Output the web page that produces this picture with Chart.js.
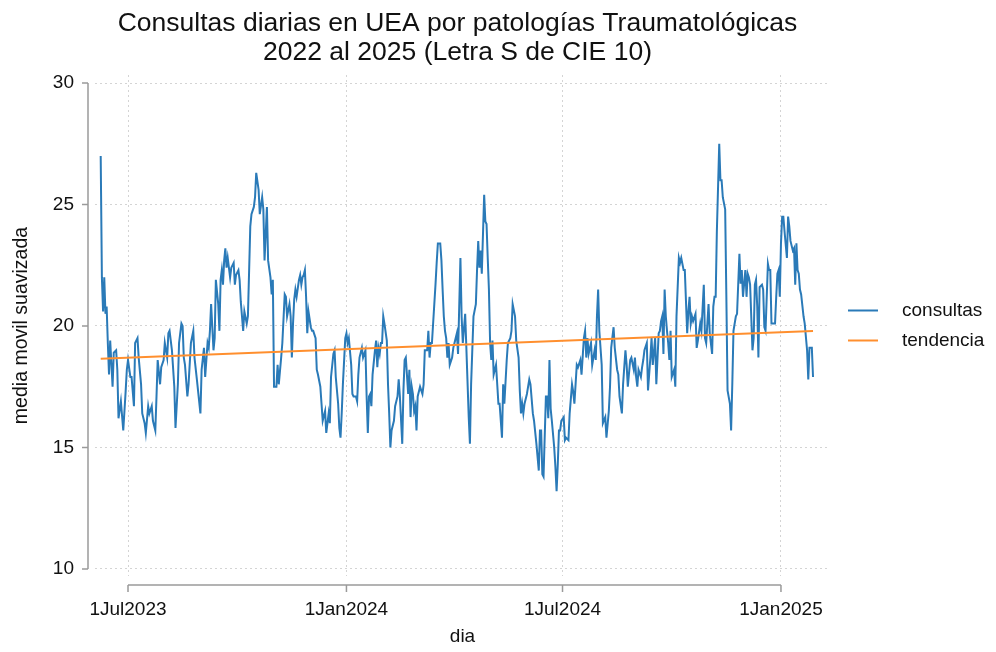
<!DOCTYPE html>
<html lang="es">
<head>
<meta charset="utf-8">
<title>Consultas diarias en UEA</title>
<script src="https://cdn.jsdelivr.net/npm/chart.js@4.4.1/dist/chart.umd.min.js"></script>
<style>
  html, body { margin: 0; padding: 0; background: #ffffff; }
  #wrap { width: 996px; height: 652px; }
</style>
</head>
<body>
<div id="wrap"><canvas id="chart" width="996" height="652"></canvas></div>
<script>
// dias desde el 1 de julio de 2023
const dias = [
  -23, -22, -21, -20, -19, -18, -17, -16, -15, -13, -12, -10, -9, -8, -6, -4, -2, -1,
  0, 2, 3, 5, 6, 8, 9, 11, 12, 14, 15, 17, 18, 20, 21, 23, 24, 25, 27, 28, 30, 31,
  33, 34, 35, 37, 39, 40, 42, 43, 45, 46, 47, 48, 50, 51, 53, 55, 56, 58, 61, 62,
  64, 65, 67, 68, 69, 70, 72, 73, 74, 76, 77, 78, 79, 80, 81, 82, 83, 84, 86, 87,
  89, 90, 91, 93, 94, 95, 96, 97, 98, 100, 101, 103, 104, 106, 107, 108, 110, 111, 113, 114,
  115, 117, 118, 120, 121, 122, 123, 125, 126, 127, 129, 130, 132, 133, 134, 136, 137, 138, 139, 140,
  141, 142, 144, 145, 146, 147, 148, 149, 150, 151, 152, 154, 155, 156, 158, 159, 160, 162, 163, 164,
  166, 167, 169, 170, 171, 173, 174, 175, 177, 178, 179, 180, 181, 183, 184, 185, 186, 188, 189, 190,
  192, 193, 194, 195, 197, 198, 200, 201, 202, 203, 204, 205, 206, 208, 209, 210, 211, 212, 213, 214,
  215, 216, 218, 219, 220, 221, 222, 224, 225, 227, 228, 229, 231, 232, 233, 234, 236, 237, 238, 239,
  240, 241, 242, 243, 244, 246, 247, 248, 249, 250, 252, 253, 254, 255, 256, 257, 259, 260, 261, 263,
  264, 265, 266, 267, 268, 269, 270, 271, 273, 274, 275, 277, 278, 280, 281, 282, 284, 285, 287, 288,
  289, 291, 293, 294, 295, 296, 297, 298, 300, 301, 302, 303, 304, 305, 306, 307, 308, 310, 311, 312,
  313, 314, 315, 316, 317, 319, 320, 322, 323, 324, 326, 327, 329, 330, 331, 332, 333, 334, 336, 338,
  339, 341, 342, 344, 346, 347, 348, 349, 350, 352, 353, 354, 355, 356, 357, 359, 360, 361, 362, 363,
  364, 365, 367, 368, 369, 371, 372, 374, 375, 376, 378, 379, 381, 382, 384, 385, 386, 387, 388, 390,
  391, 393, 394, 395, 396, 397, 398, 399, 400, 402, 403, 405, 406, 407, 409, 410, 412, 413, 414, 416,
  417, 419, 420, 421, 423, 424, 426, 427, 428, 429, 430, 432, 433, 434, 435, 437, 438, 440, 441, 442,
  444, 445, 447, 448, 449, 450, 451, 452, 453, 454, 455, 456, 457, 458, 460, 461, 462, 464, 465, 466,
  468, 469, 471, 472, 473, 474, 475, 476, 478, 479, 480, 482, 483, 485, 486, 487, 489, 490, 492, 493,
  494, 495, 496, 498, 499, 500, 501, 503, 504, 505, 507, 508, 509, 510, 512, 513, 515, 516, 517, 518,
  520, 521, 522, 523, 524, 526, 527, 528, 529, 530, 531, 532, 534, 535, 536, 537, 539, 540, 541, 542,
  544, 545, 546, 547, 548, 549, 550, 551, 552, 553, 555, 556, 557, 558, 560, 561, 562, 563, 564, 565,
  566, 567, 569, 570, 572, 573, 574, 576, 577
];

const consultas = [
  27.0, 22.0, 20.6, 22.0, 20.5, 20.8, 19.3, 18.0, 19.4, 17.5, 18.9, 19.0, 18.2, 16.2, 16.9, 15.7, 17.3, 18.2,
  18.6, 17.9, 17.9, 16.7, 19.3, 19.5, 18.7, 17.6, 16.4, 16.0, 15.6, 16.7, 16.4, 16.7, 16.1, 15.7, 17.1, 18.6, 17.6, 18.3, 18.6, 19.3,
  18.7, 19.7, 19.8, 19.0, 17.5, 15.8, 17.6, 19.3, 20.1, 20.0, 18.7, 18.4, 17.1, 17.6, 19.3, 19.8, 18.7, 17.8, 16.4, 18.2,
  19.1, 17.9, 19.3, 19.1, 19.8, 20.9, 19.0, 19.5, 21.9, 20.9, 19.8, 21.9, 22.3, 21.7, 22.7, 23.2, 22.4, 22.8, 22.0, 22.4,
  22.6, 21.7, 22.1, 22.3, 21.9, 21.0, 20.4, 19.8, 20.6, 20.1, 20.4, 24.1, 24.6, 24.9, 25.3, 26.3, 25.6, 24.6, 25.3, 24.8,
  22.7, 24.9, 22.7, 22.0, 21.3, 21.9, 17.5, 17.5, 18.4, 17.6, 18.7, 19.3, 21.3, 21.2, 20.4, 20.9, 20.4, 18.7, 20.1, 21.1,
  21.5, 21.2, 21.9, 22.1, 21.7, 22.0, 22.1, 22.3, 21.2, 19.7, 20.6, 19.95, 19.8, 19.8, 19.5, 18.2, 18.0, 17.5, 16.8, 16.1,
  16.5, 15.6, 16.4, 16.0, 17.9, 18.85, 19.0, 17.9, 16.8, 15.8, 15.4, 16.4, 17.6, 19.5, 19.7, 19.3, 19.5, 18.4, 17.2, 17.1,
  17.1, 16.9, 18.0, 18.7, 19.1, 18.7, 19.0, 17.1, 15.6, 17.1, 17.2, 16.7, 18.0, 19.0, 19.4, 18.3, 19.1, 18.85, 19.3, 19.3,
  20.4, 20.1, 19.4, 17.6, 16.4, 15.0, 15.7, 16.1, 16.7, 17.1, 17.8, 17.1, 15.15, 17.35, 18.6, 18.7, 17.2, 18.2, 16.25, 17.5,
  17.2, 16.5, 16.7, 15.7, 17.1, 17.5, 17.35, 17.2, 17.6, 19.0, 19.0, 19.8, 18.7, 19.3, 19.3, 20.1, 21.7, 22.6, 23.4, 23.4,
  22.7, 21.5, 20.4, 19.8, 19.5, 18.7, 19.3, 18.4, 18.7, 19.1, 19.3, 19.7, 18.85, 22.8, 20.4, 19.3, 20.5, 19.1, 16.25, 15.15,
  17.6, 20.4, 20.9, 22.3, 23.5, 22.4, 23.1, 22.15, 25.4, 24.3, 24.2, 22.8, 21.5, 19.3, 18.6, 19.4, 18.0, 18.4, 17.6, 16.8,
  16.8, 16.1, 15.4, 17.6, 16.8, 18.6, 19.3, 19.5, 19.8, 20.9, 20.4, 19.4, 18.7, 17.35, 16.4, 16.8, 16.4, 16.8, 17.2, 17.8,
  17.6, 16.4, 16.1, 15.15, 14.05, 15.7, 15.7, 13.9, 13.8, 17.1, 17.1, 16.2, 18.6, 16.6, 16.1, 15.0, 14.2, 13.2, 14.3, 15.7,
  15.7, 16.1, 16.25, 15.3, 15.4, 15.3, 16.4, 17.6, 17.3, 16.8, 18.4, 18.3, 18.6, 18.0, 19.5, 19.8, 18.7, 19.5, 18.85, 19.3,
  18.4, 19.0, 18.6, 20.4, 21.5, 19.8, 19.1, 18.4, 16.0, 16.25, 15.4, 16.5, 17.5, 19.1, 19.95, 19.1, 18.2, 18.0, 17.1, 16.4,
  17.6, 19.0, 18.4, 17.5, 18.6, 18.7, 18.2, 18.7, 17.9, 17.5, 18.2, 17.9, 18.3, 18.6, 19.0, 19.3, 17.35, 18.7, 19.5, 18.4,
  19.5, 17.6, 19.7, 19.8, 20.2, 20.4, 18.85, 21.5, 20.4, 19.8, 19.3, 18.6, 19.8, 17.9, 18.2, 17.5, 20.4, 22.8, 22.6, 22.8,
  22.3, 22.3, 19.7, 20.6, 21.2, 20.1, 20.4, 20.2, 20.5, 19.1, 19.4, 20.1, 19.8, 21.7, 19.5, 19.3, 20.9, 19.7, 18.85, 20.8,
  21.2, 21.2, 23.9, 27.5, 26.0, 26.0, 25.3, 24.8, 21.2, 17.35, 16.8, 15.7, 17.6, 19.8, 20.4, 20.5, 22.97, 21.74, 22.3, 21.2,
  22.3, 21.2, 22.15, 22.0, 21.7, 19.0, 19.5, 21.7, 21.9, 20.8, 18.7, 21.6, 21.7, 21.5, 19.95, 19.8, 22.56, 22.3, 22.3, 20.1,
  20.1, 20.1, 21.2, 22.15, 22.3, 21.2, 23.4, 24.5, 24.5, 23.9, 22.8, 24.5, 24.1, 23.5, 23.1, 23.2, 21.7, 23.4, 22.3, 22.15,
  21.5, 21.3, 20.4, 20.1, 19.0, 17.8, 19.1, 19.1, 17.9
];

// recta de tendencia (extremos)
const tendenciaDias = [-23, 577];
const tendencia = [18.65, 19.79];

const yTicks = [10, 15, 20, 25, 30];
const xTickDias = [0, 184, 366, 550];
const xTickLabels = ['1Jul2023', '1Jan2024', '1Jul2024', '1Jan2025'];

const tituloLineas = [
  'Consultas diarias en UEA por patologías Traumatológicas',
  '2022 al 2025 (Letra S de CIE 10)',
];

const FONT_FAMILY = "'Liberation Sans', Arial, sans-serif";
const TEXT_COLOR = '#111111';
const GRID_COLOR = '#d4d4d4';
const AXIS_COLOR = '#9a9a9a';
const BLUE = '#2a7ab8';
const ORANGE = '#ff8f2e';

function toPoints(xs, ys) {
  return xs.map((x, i) => ({ x, y: ys[i] }));
}

// ejes al estilo Stata: recorren solo del primer al ultimo tick
const stataAxes = {
  id: 'stataAxes',
  afterDraw(chart) {
    const { ctx, chartArea, scales: { x, y } } = chart;
    ctx.save();
    ctx.strokeStyle = AXIS_COLOR;
    ctx.lineWidth = 1.5;
    ctx.beginPath();

    const ax = chartArea.left - 7;
    ctx.moveTo(ax, y.getPixelForValue(yTicks[yTicks.length - 1]));
    ctx.lineTo(ax, y.getPixelForValue(yTicks[0]));
    yTicks.forEach((v) => {
      const p = y.getPixelForValue(v);
      ctx.moveTo(ax, p);
      ctx.lineTo(ax - 6, p);
    });

    const ay = chartArea.bottom + 9;
    ctx.moveTo(x.getPixelForValue(xTickDias[0]), ay);
    ctx.lineTo(x.getPixelForValue(xTickDias[xTickDias.length - 1]), ay);
    xTickDias.forEach((v) => {
      const p = x.getPixelForValue(v);
      ctx.moveTo(p, ay);
      ctx.lineTo(p, ay + 7);
    });
    ctx.stroke();
    ctx.restore();
  },
};

// titulo centrado sobre la region del grafico
const stataTitle = {
  id: 'stataTitle',
  afterDraw(chart) {
    const { ctx, chartArea } = chart;
    const cx = (chartArea.left + chartArea.right) / 2 - 5;
    ctx.save();
    ctx.fillStyle = TEXT_COLOR;
    ctx.font = `26.5px ${FONT_FAMILY}`;
    ctx.textAlign = 'center';
    ctx.textBaseline = 'middle';
    tituloLineas.forEach((line, i) => {
      ctx.fillText(line, cx, 24 + i * 29);
    });
    ctx.restore();
  },
};

// leyenda a la derecha
const stataLegend = {
  id: 'stataLegend',
  afterDraw(chart) {
    const { ctx, chartArea } = chart;
    const x0 = chartArea.right + 18;
    const midY = (chartArea.top + chartArea.bottom) / 2;
    const sets = chart.data.datasets;
    ctx.save();
    ctx.font = `19px ${FONT_FAMILY}`;
    ctx.textBaseline = 'middle';
    ctx.textAlign = 'left';
    sets.forEach((ds, i) => {
      const yy = midY - 15 + i * 30;
      ctx.strokeStyle = ds.borderColor;
      ctx.lineWidth = 2;
      ctx.beginPath();
      ctx.moveTo(x0, yy);
      ctx.lineTo(x0 + 30, yy);
      ctx.stroke();
      ctx.fillStyle = TEXT_COLOR;
      ctx.fillText(ds.label, x0 + 54, yy);
    });
    ctx.restore();
  },
};

const axisFont = { family: FONT_FAMILY, size: 19 };

new Chart(document.getElementById('chart'), {
  type: 'line',
  data: {
    datasets: [
      {
        label: 'consultas',
        data: toPoints(dias, consultas),
        borderColor: BLUE,
        borderWidth: 2,
        pointRadius: 0,
        tension: 0,
        order: 1,
      },
      {
        label: 'tendencia',
        data: toPoints(tendenciaDias, tendencia),
        borderColor: ORANGE,
        borderWidth: 2,
        pointRadius: 0,
        tension: 0,
        order: 0,
      },
    ],
  },
  options: {
    responsive: false,
    animation: false,
    devicePixelRatio: 1,
    layout: { padding: { top: 75, right: 166, bottom: 0, left: 0 } },
    plugins: {
      legend: { display: false },
      title: { display: false },
      tooltip: { enabled: false },
    },
    scales: {
      x: {
        type: 'linear',
        min: -27.8,
        max: 591.3,
        afterFit: (scale) => { scale.height = 76; },
        afterBuildTicks: (scale) => {
          scale.ticks = xTickDias.map((v) => ({ value: v }));
        },
        grid: { color: GRID_COLOR, lineWidth: 1, drawTicks: false },
        border: { display: false, dash: [2, 3] },
        ticks: {
          padding: 22,
          maxRotation: 0,
          autoSkip: false,
          color: TEXT_COLOR,
          font: axisFont,
          callback: (value) => {
            const idx = xTickDias.indexOf(value);
            return idx >= 0 ? xTickLabels[idx] : '';
          },
        },
        title: {
          display: true,
          text: 'dia',
          color: TEXT_COLOR,
          font: axisFont,
          padding: { top: 0, bottom: 4 },
        },
      },
      y: {
        min: 9.71,
        max: 30.33,
        afterFit: (scale) => { scale.width = 95; },
        afterBuildTicks: (scale) => {
          scale.ticks = yTicks.map((v) => ({ value: v }));
        },
        grid: { color: GRID_COLOR, lineWidth: 1, drawTicks: false },
        border: { display: false, dash: [2, 3] },
        ticks: {
          padding: 21,
          color: TEXT_COLOR,
          font: axisFont,
        },
        title: {
          display: true,
          text: 'media movil suavizada',
          color: TEXT_COLOR,
          font: { family: FONT_FAMILY, size: 19.5 },
          padding: { top: 10, bottom: 0 },
        },
      },
    },
  },
  plugins: [stataAxes, stataTitle, stataLegend],
});
</script>
</body>
</html>
